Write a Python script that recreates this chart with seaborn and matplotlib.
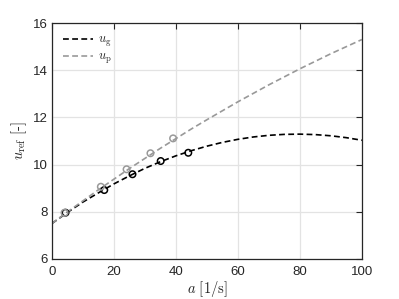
import numpy as np
import pandas as pd
import seaborn as sns
import matplotlib.pyplot as plt

# curves
a_line = [0, 5, 10, 15, 20, 25, 30, 35, 40, 45, 50, 55, 60, 65, 70, 75, 80, 85, 90, 95, 100]
u_g = [7.50, 7.97, 8.41, 8.80, 9.18, 9.52, 9.84, 10.12, 10.37, 10.59, 10.78,
       10.94, 11.07, 11.17, 11.24, 11.28, 11.29, 11.27, 11.22, 11.14, 11.03]
u_p = [7.50, 7.99, 8.46, 8.93, 9.38, 9.83, 10.26, 10.69, 11.10, 11.51, 11.90,
       12.28, 12.66, 13.02, 13.38, 13.72, 14.06, 14.38, 14.70, 15.00, 15.30]

# measured points
a_g_pts = [4.4, 16.9, 26.0, 35.1, 44.0]
u_g_pts = [7.96, 8.92, 9.59, 10.15, 10.50]
a_p_pts = [4.1, 15.8, 24.1, 31.8, 39.1]
u_p_pts = [7.96, 9.06, 9.80, 10.48, 11.11]

sns.set_style("white")
plt.rcParams['font.family'] = ['Liberation Sans', 'DejaVu Sans']
plt.rcParams['mathtext.fontset'] = 'cm'

fig = plt.figure(figsize=(3.99, 2.99), dpi=100)
ax = fig.add_axes([0.130, 0.134, 0.777, 0.789])

gray = '#999999'
lines = pd.DataFrame({'a': a_line, 'ug': u_g, 'up': u_p})
sns.lineplot(data=lines, x='a', y='ug', ax=ax, color='black', lw=1.2,
             linestyle=(0, (3.5, 2)), label=r'$u_\mathrm{g}$')
sns.lineplot(data=lines, x='a', y='up', ax=ax, color=gray, lw=1.2,
             linestyle=(0, (3.5, 2)), label=r'$u_\mathrm{p}$')
sns.scatterplot(x=a_g_pts, y=u_g_pts, ax=ax, marker='o', s=22,
                facecolors='none', edgecolor='black', linewidth=1.1, zorder=3)
sns.scatterplot(x=a_p_pts, y=u_p_pts, ax=ax, marker='o', s=22,
                facecolors='none', edgecolor=gray, linewidth=1.1, zorder=3)

ax.set_xlim(0, 100)
ax.set_ylim(6, 16)
ax.set_xticks([0, 20, 40, 60, 80, 100])
ax.set_yticks([6, 8, 10, 12, 14, 16])
ax.grid(True, color='#e3e3e3', lw=0.9)
ax.set_axisbelow(True)
ax.tick_params(direction='in', top=True, right=True, length=4, width=0.8,
               labelsize=9.5, colors='#262626', pad=5)
ax.tick_params(axis='y', pad=3)
for s in ax.spines.values():
    s.set_color('#262626')
    s.set_linewidth(0.9)

ax.set_xlabel(r'$a\ [1/\mathrm{s}]$', fontsize=10.5, labelpad=1)
ax.set_ylabel(r'$u_\mathrm{ref}\ [\text{-}]$', fontsize=10.5, labelpad=3)
ax.legend(loc='upper left', frameon=False, fontsize=9, handlelength=2.4,
          handletextpad=0.4, labelspacing=0.15, borderaxespad=0.5)

fig.savefig('out.png', dpi=100)
